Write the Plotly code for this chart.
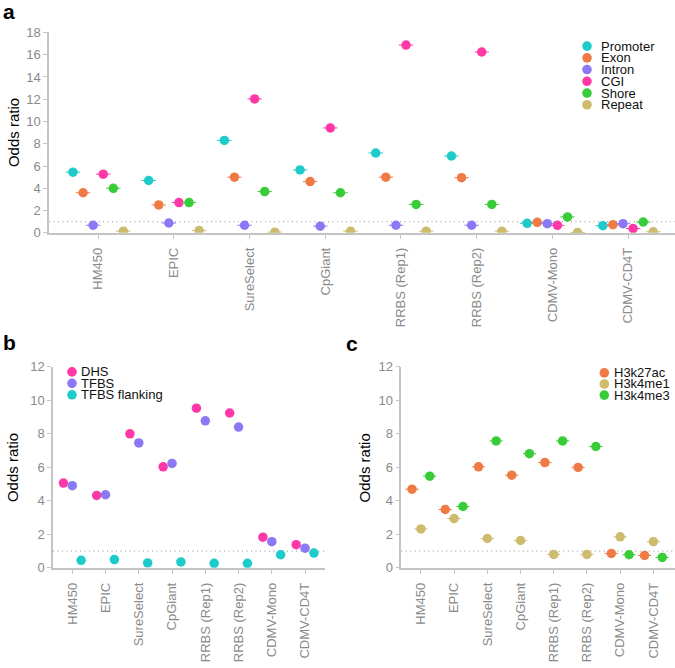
import plotly.graph_objects as go

categories = ["HM450", "EPIC", "SureSelect", "CpGiant", "RRBS (Rep1)",
              "RRBS (Rep2)", "CDMV-Mono", "CDMV-CD4T"]

# Panel a: genomic features
a_series = ["Promoter", "Exon", "Intron", "CGI", "Shore", "Repeat"]
promoter = [5.45, 4.70, 8.30, 5.65, 7.17, 6.90, 0.85, 0.64]
exon = [3.60, 2.50, 5.00, 4.60, 5.00, 4.95, 0.94, 0.73]
intron = [0.68, 0.88, 0.68, 0.60, 0.68, 0.68, 0.82, 0.82]
cgi = [5.27, 2.72, 12.03, 9.42, 16.86, 16.24, 0.67, 0.38]
shore = [4.00, 2.72, 3.70, 3.60, 2.55, 2.55, 1.43, 0.97]
repeat = [0.15, 0.20, 0.06, 0.15, 0.15, 0.15, 0.03, 0.09]

# Panel b: regulatory elements
b_series = ["DHS", "TFBS", "TFBS flanking"]
dhs = [5.06, 4.32, 8.00, 6.03, 9.53, 9.24, 1.83, 1.38]
tfbs = [4.90, 4.36, 7.45, 6.23, 8.77, 8.40, 1.56, 1.17]
tfbs_flanking = [0.45, 0.49, 0.29, 0.35, 0.27, 0.27, 0.78, 0.88]

# Panel c: histone marks
c_series = ["H3k27ac", "H3k4me1", "H3k4me3"]
h3k27ac = [4.69, 3.48, 6.03, 5.53, 6.28, 5.99, 0.86, 0.74]
h3k4me1 = [2.32, 2.94, 1.75, 1.63, 0.80, 0.80, 1.85, 1.56]
h3k4me3 = [5.47, 3.66, 7.57, 6.81, 7.57, 7.24, 0.78, 0.62]

CYAN, ORANGE, PURPLE = "#1DCBCB", "#F07A45", "#8A78F5"
PINK, GREEN, KHAKI = "#FF38A8", "#38CC38", "#CDBB6E"

W, H = 675, 668
FONT = "Liberation Sans, Arial, Helvetica, sans-serif"
TICKC = "#8a8a8a"
LINEC = "#c4c4c4"

fig = go.Figure()

def add_panel(values_list, names, colors, xa, ya, errw):
    n = len(values_list)
    dodge = 0.8
    for i, (vals, name, col) in enumerate(zip(values_list, names, colors)):
        off = -dodge / 2 + dodge / n * (i + 0.5)
        xs = [k + off for k in range(len(categories))]
        kw = {}
        if errw:
            kw["error_x"] = dict(type="constant", value=errw, width=0,
                                 thickness=1, color=col)
        fig.add_trace(go.Scatter(
            x=xs, y=vals, mode="markers", name=name, showlegend=False,
            xaxis=xa, yaxis=ya,
            marker=dict(size=9.5, color=col, line=dict(width=0)),
            **kw))

add_panel([promoter, exon, intron, cgi, shore, repeat], a_series,
          [CYAN, ORANGE, PURPLE, PINK, GREEN, KHAKI], "x", "y", 0.095)
add_panel([dhs, tfbs, tfbs_flanking], b_series,
          [PINK, PURPLE, CYAN], "x2", "y2", 0)
add_panel([h3k27ac, h3k4me1, h3k4me3], c_series,
          [ORANGE, KHAKI, GREEN], "x3", "y3", 0.2)

def px_x(p):
    return p / W

def px_y(p):
    return 1 - p / H

xcommon = dict(tickmode="array", tickvals=list(range(len(categories))),
               ticktext=categories, tickangle=-90, showgrid=False,
               zeroline=False, showline=True, linecolor=LINEC, linewidth=1.5,
               ticks="outside", ticklen=4, tickwidth=1.2, tickcolor=LINEC,
               ticklabelstandoff=4,
               tickfont=dict(family=FONT, size=13, color=TICKC))
ycommon = dict(showgrid=False, zeroline=False, showline=True,
               linecolor=LINEC, linewidth=1.5, ticks="outside", ticklen=4,
               tickwidth=1.2, tickcolor=LINEC, dtick=2,
               tickfont=dict(family=FONT, size=13, color=TICKC))

fig.update_layout(
    width=W, height=H, margin=dict(l=0, r=0, t=0, b=0),
    paper_bgcolor="white", plot_bgcolor="white", showlegend=False,
    xaxis=dict(domain=[px_x(49), 1], range=[-0.65, 7.62], anchor="y", **xcommon),
    yaxis=dict(domain=[px_y(231), px_y(26)], range=[0, 18], anchor="x", **ycommon),
    xaxis2=dict(domain=[px_x(53), px_x(325)], range=[-0.58, 7.6], anchor="y2", **xcommon),
    yaxis2=dict(domain=[px_y(573.7), px_y(368)], range=[0, 12], anchor="x2", **ycommon),
    xaxis3=dict(domain=[px_x(401.3), 1], range=[-0.59, 7.65], anchor="y3", **xcommon),
    yaxis3=dict(domain=[px_y(573.7), px_y(368)], range=[0, 12], anchor="x3", **ycommon),
)

# reference line at odds ratio 1
for xr, yr in [("x", "y"), ("x2", "y2"), ("x3", "y3")]:
    fig.add_shape(type="line", xref=f"{xr} domain", yref=yr, x0=0, x1=1,
                  y0=1, y1=1,
                  line=dict(color="#a8a8a8", width=1.2, dash="1px,3.5px"),
                  layer="below")

annotations = []
# panel letters
for letter, x, y in [("a", 1, 18), ("b", 1, 357), ("c", 344, 358)]:
    annotations.append(dict(text=f"<b>{letter}</b>", x=px_x(x), y=px_y(y),
                            xref="paper", yref="paper", xanchor="left",
                            yanchor="bottom", showarrow=False,
                            font=dict(family=FONT, size=21, color="black")))
# axis titles
for x, y in [(13.5, 128.5), (12.7, 471), (364, 471)]:
    annotations.append(dict(text="Odds ratio", x=px_x(x), y=px_y(y),
                            xref="paper", yref="paper", textangle=-90,
                            xanchor="center", yanchor="middle", showarrow=False,
                            font=dict(family=FONT, size=15, color="black")))

# manual legends
def legend(names, colors, mx, y0, dy, tx):
    for i, (n, c) in enumerate(zip(names, colors)):
        yy = y0 + dy * i
        fig.add_shape(type="circle", xref="paper", yref="paper",
                      xsizemode="pixel", ysizemode="pixel",
                      xanchor=px_x(mx), yanchor=px_y(yy),
                      x0=-4.8, x1=4.8, y0=-4.8, y1=4.8,
                      fillcolor=c, line=dict(width=0))
        annotations.append(dict(text=n, x=px_x(tx), y=px_y(yy), xref="paper",
                                yref="paper", xanchor="left", yanchor="middle",
                                showarrow=False,
                                font=dict(family=FONT, size=13, color="#111")))

legend(a_series, [CYAN, ORANGE, PURPLE, PINK, GREEN, KHAKI], 587, 40, 12, 599)
legend(b_series, [PINK, PURPLE, CYAN], 72, 373.3, 11.7, 79)
legend(c_series, [ORANGE, KHAKI, GREEN], 604.3, 374.3, 11.35, 612)

fig.update_layout(annotations=annotations)
fig.write_html("out.html",
               config={"displayModeBar": False},
               post_script="document.body.style.margin='0px';")
